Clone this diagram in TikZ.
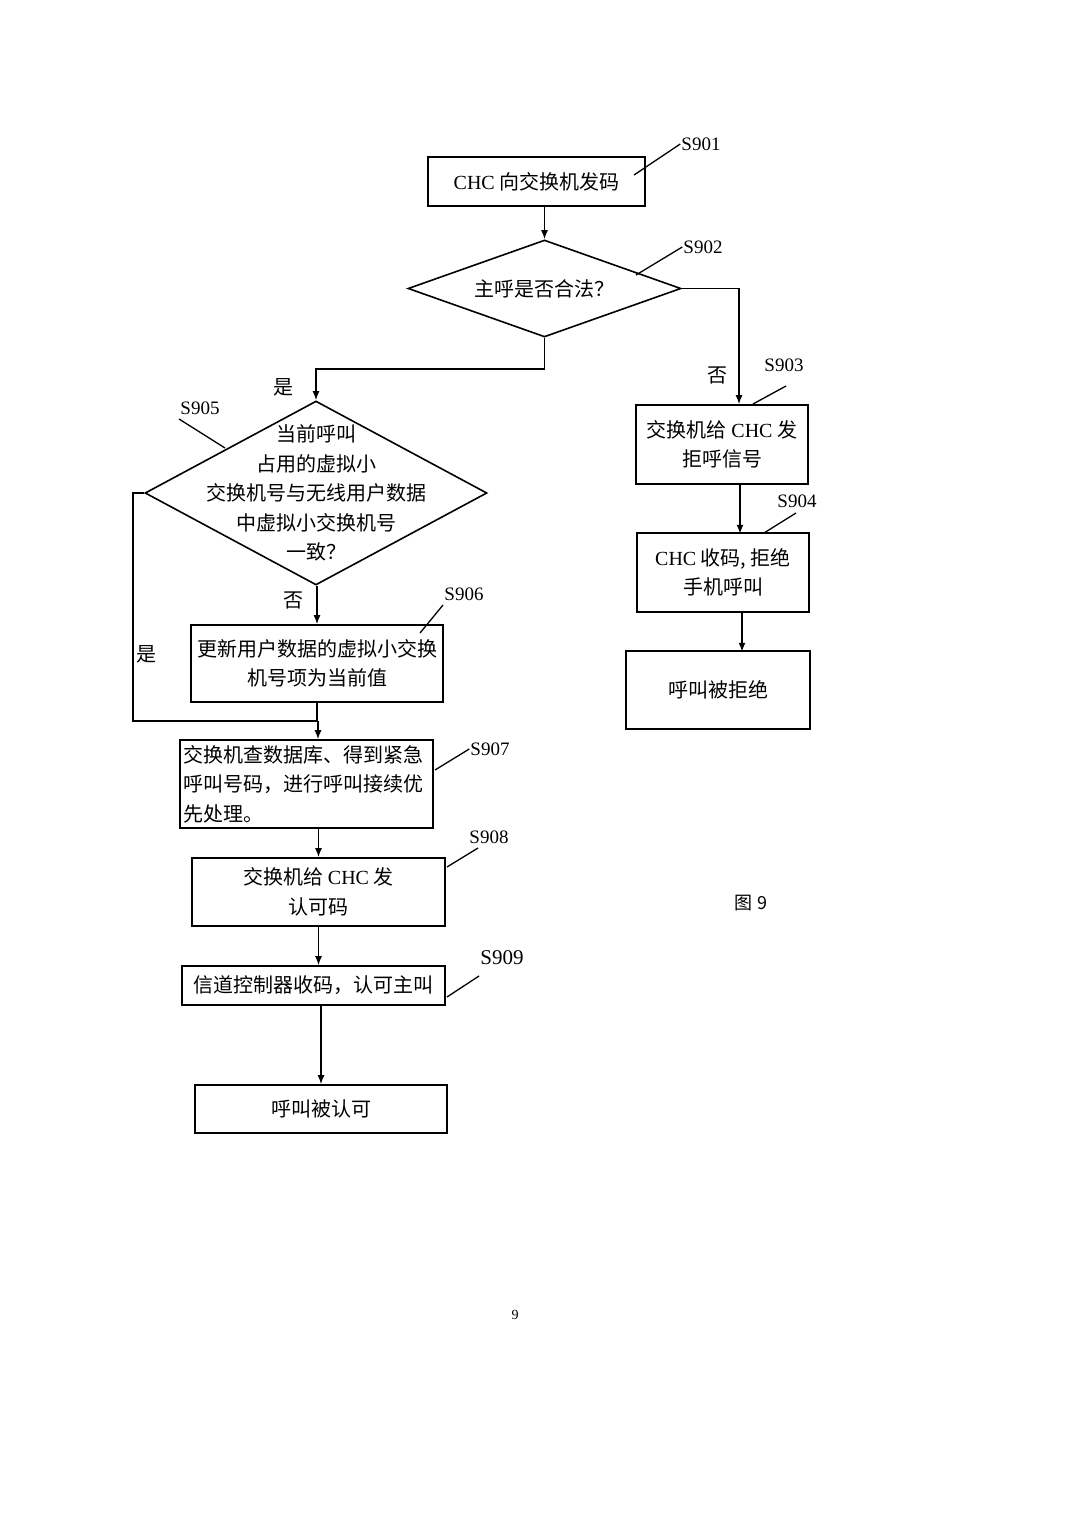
\documentclass[tikz,border=0pt]{standalone}
\usepackage{fontspec}
\setmainfont{Liberation Serif}
\newfontfamily\cjk{Noto Sans CJK SC}
\usepackage{tikz}
\usetikzlibrary{shapes.geometric}
\usetikzlibrary{arrows.meta}
\newcommand{\chc}{{\rmfamily CHC}}

\begin{document}
\begin{tikzpicture}[x=1pt,y=-1pt,
    stepbox/.style={draw,line width=1.6pt,inner sep=2pt,align=center,
      font=\cjk\fontsize{20}{29.5}\selectfont},
    decision/.style={draw,diamond,line width=1.6pt,inner sep=0pt},
    dtext/.style={align=center,font=\cjk\fontsize{20}{29.5}\selectfont},
    steplabel/.style={inner sep=1pt,font=\fontsize{19}{21}\selectfont},
    yesno/.style={inner sep=1pt,font=\cjk\fontsize{20}{22}\selectfont},
    leader/.style={line width=1.3pt},
    flow/.style={line width=1.5pt},
    arr/.style={line width=1.5pt,-{Latex[length=9pt,width=7pt]}}]
    \fill[white] (0,0) rectangle (1080,1528);
    \useasboundingbox (0,0) rectangle (1080,1528);

    % right column
    \node[stepbox,minimum width=217pt,minimum height=49pt] (b901) at (536.5,181.5) {\chc\ 向交换机发码};
    \node[decision,minimum width=273pt,minimum height=97pt,
      label={[dtext]center:主呼是否合法？}] (d902) at (544.5,288.5) {};
    \node[stepbox,minimum width=172pt,minimum height=79pt] (b903) at (722,444.5) {交换机给 \chc\ 发\\拒呼信号};
    \node[stepbox,minimum width=172pt,minimum height=79pt] (b904) at (723,572.5) {\chc\ 收码, 拒绝\\手机呼叫};
    \node[stepbox,minimum width=184pt,minimum height=78pt] (brej) at (718,690) {呼叫被拒绝};

    % left column
    \node[decision,minimum width=342pt,minimum height=184pt,
      label={[dtext]center:当前呼叫\\占用的虚拟小\\交换机号与无线用户数据\\中虚拟小交换机号\\一致？}] (d905) at (316,493) {};
    \node[stepbox,minimum width=252pt,minimum height=77pt] (b906) at (317,663.5) {更新用户数据的虚拟小交换\\机号项为当前值};
    \node[stepbox,minimum width=253pt,minimum height=88pt,align=left,text width=247pt] (b907) at (306.5,784) {交换机查数据库、得到紧急\\呼叫号码，进行呼叫接续优\\先处理。};
    \node[stepbox,minimum width=253pt,minimum height=68pt] (b908) at (318.5,892) {交换机给 \chc\ 发\\认可码};
    \node[stepbox,minimum width=263pt,minimum height=39pt] (b909) at (313.5,985.5) {信道控制器收码，认可主叫};
    \node[stepbox,minimum width=252pt,minimum height=48pt] (bacc) at (321,1109) {呼叫被认可};

    % step labels
    \node[steplabel] (t901) at (701,144) {S901};
    \node[steplabel] (t902) at (703,247) {S902};
    \node[steplabel] (t903) at (784,365) {S903};
    \node[steplabel] (t904) at (797,501) {S904};
    \node[steplabel] (t905) at (200,408) {S905};
    \node[steplabel] (t906) at (464,594) {S906};
    \node[steplabel] (t907) at (490,749) {S907};
    \node[steplabel] (t908) at (489,837) {S908};
    \node[steplabel,font=\fontsize{21}{23}\selectfont] (t909) at (502,958) {S909};

    \draw[leader] (634,175) coordinate (p901) -- (t901.west);
    \draw[leader] (636,275) coordinate (p902) -- (t902.west);
    \draw[leader] (753,404) coordinate (p903) -- (786,386) coordinate (q903);
    \draw[leader] (764,533) coordinate (p904) -- (796,513) coordinate (q904);
    \draw[leader] (225,448) coordinate (p905) -- (179,419) coordinate (q905);
    \draw[leader] (420,633) coordinate (p906) -- (443,605) coordinate (q906);
    \draw[leader] (435,770) coordinate (p907) -- (t907.west);
    \draw[leader] (447,867) coordinate (p908) -- (478,848) coordinate (q908);
    \draw[leader] (447,997) coordinate (p909) -- (479,976) coordinate (q909);

    % yes / no
    \node[yesno] (y905) at (283,387) {是};
    \node[yesno] (n903) at (717,375) {否};
    \node[yesno] (n906) at (293,600) {否};
    \node[yesno] (y907) at (146,654) {是};

    % connectors
    \draw[arr] (d902.north |- b901.south) -- (d902.north);
    \draw[arr] (d902.east) -| ([xshift=17pt]b903.north);
    \draw[arr] ([xshift=18pt]b903.south) -- ++(0,49);
    \draw[arr] ([xshift=19pt]b904.south) -- ++(0,39);
    \draw[arr] (d902.south) -- ++(0,31) -| (d905.north);
    \draw[arr] (b906.north |- d905.south) -- (b906.north);
    \path (b906.south) ++(1,18) coordinate (j907);
    \draw[flow] (d905.west) -- ++(-11,0) |- (j907);
    \draw[flow] (b906.south) -- (b906.south |- j907);
    \draw[arr] (j907) -- (j907 |- b907.north);
    \draw[arr] (b908.north |- b907.south) -- (b908.north);
    \draw[arr] (b908.south) -- (b908.south |- b909.north);
    \draw[arr] (bacc.north |- b909.south) -- (bacc.north);

    \node[font=\cjk\fontsize{18}{20}\selectfont] (fig) at (751,903) {图 9};
    \node[font=\fontsize{14}{16}\selectfont] (page) at (515,1315) {9};
  \end{tikzpicture}
\end{document}
